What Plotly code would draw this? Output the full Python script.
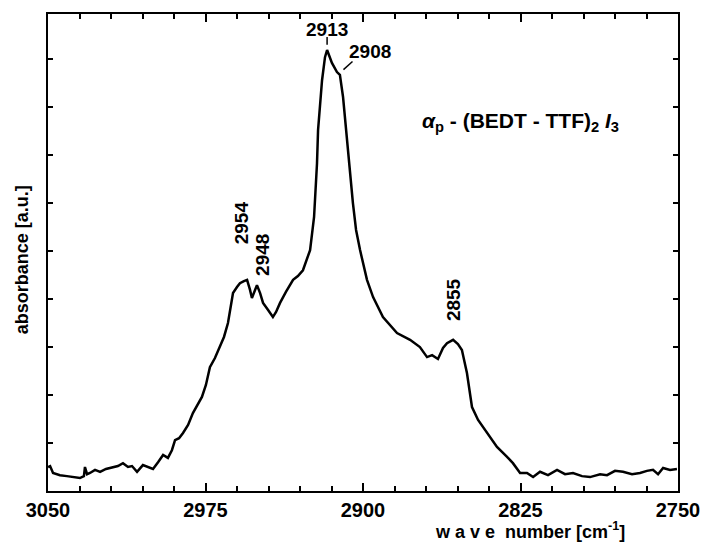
import plotly.graph_objects as go

# IR spectrum of alpha_p-(BEDT-TTF)2 I3
wavenumber = [3050.0, 3049.0, 3047.6, 3044.3, 3041.0, 3037.1, 3034.8, 3032.9, 3032.4, 3031.4,
              3030.0, 3027.6, 3025.2, 3022.4, 3019.0, 3016.7, 3014.3, 3011.9, 3010.0, 3007.6,
              3004.8, 3002.4, 3000.0, 2997.6, 2995.2, 2992.9, 2991.0, 2989.5, 2987.6, 2985.7,
              2983.3, 2981.0, 2978.6, 2976.7, 2974.8, 2972.9, 2970.5, 2968.1, 2966.2, 2964.3,
              2962.9, 2961.9, 2960.0, 2958.6, 2956.7, 2955.2, 2953.8, 2952.9, 2951.4, 2950.5,
              2949.0, 2947.6, 2945.2, 2942.9, 2941.4, 2939.5, 2936.7, 2933.3, 2931.0, 2928.6,
              2925.2, 2923.3, 2921.9, 2921.4, 2919.5, 2918.1, 2917.1, 2915.7, 2914.8, 2912.4,
              2911.0, 2909.5, 2907.6, 2906.2, 2904.8, 2903.3, 2901.4, 2898.1, 2895.2, 2890.5,
              2883.8, 2877.6, 2872.9, 2869.5, 2867.1, 2864.3, 2861.9, 2860.0, 2857.1, 2854.8,
              2852.9, 2850.5, 2848.1, 2845.2, 2841.0, 2836.2, 2831.4, 2828.6, 2825.2, 2821.9,
              2819.0, 2815.7, 2811.9, 2807.6, 2803.8, 2800.0, 2795.7, 2791.9, 2787.1, 2783.8,
              2780.0, 2776.2, 2771.9, 2768.1, 2764.8, 2761.9, 2759.5, 2757.1, 2753.8, 2750.5]

absorbance = [0.50, 0.52, 0.375, 0.33, 0.31, 0.29, 0.27, 0.31, 0.50, 0.35,
              0.375, 0.44, 0.40, 0.46, 0.50, 0.52, 0.58, 0.50, 0.52, 0.40,
              0.54, 0.50, 0.46, 0.60, 0.75, 0.69, 0.85, 1.06, 1.10, 1.21,
              1.375, 1.625, 1.81, 1.96, 2.21, 2.58, 2.77, 3.00, 3.21, 3.50,
              3.875, 4.125, 4.25, 4.33, 4.375, 4.40, 4.19, 4.02, 4.19, 4.29,
              4.125, 3.92, 3.77, 3.625, 3.73, 3.92, 4.15, 4.40, 4.48, 4.60,
              5.02, 5.71, 6.83, 7.52, 8.56, 9.04, 9.19, 9.04, 8.92, 8.73,
              8.67, 8.21, 7.31, 6.625, 6.00, 5.44, 5.02, 4.40, 4.04, 3.625,
              3.29, 3.15, 3.00, 2.79, 2.83, 2.75, 2.98, 3.08, 3.15, 3.06,
              2.94, 2.46, 1.75, 1.48, 1.21, 0.92, 0.71, 0.58, 0.375, 0.375,
              0.29, 0.40, 0.33, 0.44, 0.35, 0.375, 0.31, 0.29, 0.35, 0.33,
              0.42, 0.40, 0.35, 0.375, 0.42, 0.44, 0.35, 0.48, 0.44, 0.46]

x_tick_values = [3050, 2975, 2900, 2825, 2750]
x_tick_labels = ["3050", "2975", "2900", "2825", "2750"]

# peak labels: text, label x, label y, angle
peak_texts = ["2913", "2908", "2954", "2948", "2855"]
peak_x = [2917.1, 2896.7, 2958.1, 2947.6, 2857.1]
peak_y = [9.625, 9.15, 5.60, 4.92, 3.98]
peak_angle = [0, 0, -90, -90, -90]

FONT = "Liberation Sans, Arial, sans-serif"

fig = go.Figure()
fig.add_trace(go.Scatter(x=wavenumber, y=absorbance, mode="lines",
                         line=dict(color="black", width=2.5), showlegend=False,
                         hoverinfo="skip"))

# leader lines for 2913 and 2908
fig.add_trace(go.Scatter(x=[2917.1, 2917.1], y=[9.46, 9.30], mode="lines",
                         line=dict(color="black", width=1.5), showlegend=False))
fig.add_trace(go.Scatter(x=[2909.3, 2905.0], y=[8.78, 8.95], mode="lines",
                         line=dict(color="black", width=1.5), showlegend=False))

for t, xx, yy, a in zip(peak_texts, peak_x, peak_y, peak_angle):
    fig.add_annotation(x=xx, y=yy, xref="x", yref="y", text="<b>%s</b>" % t,
                       showarrow=False, textangle=a, xanchor="center", yanchor="middle",
                       font=dict(family=FONT, size=19, color="black"))

fig.add_annotation(x=2825.2, y=7.69, xref="x", yref="y", xanchor="center", yanchor="middle",
                   text="<b><i>α</i><sub>p</sub> - (BEDT - TTF)<sub>2</sub> <i>I</i><sub>3</sub></b>",
                   showarrow=False, font=dict(family=FONT, size=21, color="black"))

fig.add_annotation(x=-0.041, y=0.484, xref="paper", yref="paper",
                   xanchor="center", yanchor="middle",
                   text="<b>absorbance [a.u.]</b>", textangle=-90, showarrow=False,
                   font=dict(family=FONT, size=18, color="black"))
fig.add_annotation(x=0.765, y=-0.082, xref="paper", yref="paper",
                   xanchor="center", yanchor="middle",
                   text="<b>w a v e  number [cm<sup>-1</sup>]</b>", showarrow=False,
                   font=dict(family=FONT, size=18, color="black"))

fig.update_layout(
    width=705, height=547,
    margin=dict(l=48, r=27, t=14, b=56, autoexpand=False),
    paper_bgcolor="white", plot_bgcolor="white",
    showlegend=False,
    xaxis=dict(range=[3050, 2750], tickvals=x_tick_values, ticktext=x_tick_labels,
               automargin=False,
               ticks="inside", ticklen=8, tickwidth=2, tickcolor="black",
               minor=dict(dtick=15, tick0=3050, ticks="inside", ticklen=5,
                          tickwidth=1.5, tickcolor="black"),
               showline=True, linewidth=2, linecolor="black", mirror="ticks",
               showgrid=False, zeroline=False,
               tickfont=dict(family=FONT, size=20, color="black", weight="bold")),
    yaxis=dict(range=[0, 9.94], dtick=1, tick0=0, ticks="inside", ticklen=5,
               automargin=False,
               tickwidth=1.5, tickcolor="black", showticklabels=False,
               showline=True, linewidth=2, linecolor="black", mirror="ticks",
               showgrid=False, zeroline=False),
)

fig.write_html("out.html")
